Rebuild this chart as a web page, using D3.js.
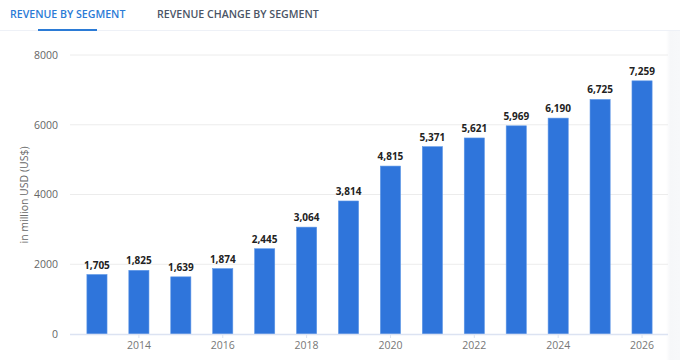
<!DOCTYPE html>
<html><head><meta charset="utf-8">
<script src="https://cdn.jsdelivr.net/npm/d3@7"></script>
<style>body{margin:0;background:#fff;font-family:"Open Sans",sans-serif;}</style>
</head><body>
<svg id="c" width="680" height="360"></svg>
<script>
const years = [2013,2014,2015,2016,2017,2018,2019,2020,2021,2022,2023,2024,2025,2026];
const revenue = [1705,1825,1639,1874,2445,3064,3814,4815,5371,5621,5969,6190,6725,7259];
const yTicks = [0,2000,4000,6000,8000];
const xTickYears = [2014,2016,2018,2020,2022,2024,2026];
const tabs = ["REVENUE BY SEGMENT","REVENUE CHANGE BY SEGMENT"];
const yLabel = "in million USD (US$)";

const svg = d3.select("#c");
// faint right strip
const grad = svg.append("defs").append("linearGradient").attr("id","rs").attr("x1","0").attr("x2","1");
grad.append("stop").attr("offset","0").attr("stop-color","#ffffff");
grad.append("stop").attr("offset","0.3").attr("stop-color","#f6f7f9");
grad.append("stop").attr("offset","1").attr("stop-color","#f7f8fa");
svg.append("rect").attr("x",666).attr("y",31).attr("width",14).attr("height",329).attr("fill","url(#rs)");

// tabs
svg.append("text").attr("x",10).attr("y",18).text(tabs[0])
  .attr("font-size",10.6).attr("font-weight",600).attr("fill","#2b7bd6");
svg.append("text").attr("x",157).attr("y",18).text(tabs[1])
  .attr("font-size",10.6).attr("font-weight",600).attr("fill","#4b5566");
svg.append("rect").attr("x",0).attr("y",30).attr("width",680).attr("height",1).attr("fill","#eef1f7");
svg.append("rect").attr("x",38).attr("y",29).attr("width",59).attr("height",2).attr("fill","#2b7bd6");

const x = d3.scaleBand().domain(years).range([76,663]).paddingInner(0.52).paddingOuter(0.26);
const y = d3.scaleLinear().domain([0,8000]).range([334,55]);

// grid
svg.append("g").selectAll("line").data(yTicks.slice(1)).join("line")
  .attr("x1",70).attr("x2",668).attr("y1",d=>y(d)).attr("y2",d=>y(d))
  .attr("stroke","#ececec").attr("stroke-width",1);

// y axis labels
const yAxis = d3.axisLeft(y).tickValues(yTicks).tickSize(0).tickPadding(12).tickFormat(d3.format("d"));
const ga = svg.append("g").attr("transform","translate(70,0)").call(yAxis);
ga.select(".domain").remove();
ga.selectAll("text").attr("font-size",10.5).attr("fill","#666").attr("font-family","Open Sans");

svg.append("text").attr("transform","translate(28,195) rotate(-90)").attr("text-anchor","middle")
  .attr("font-size",10.5).attr("fill","#666").text(yLabel);

// bars
svg.append("g").selectAll("rect").data(years).join("rect")
  .attr("x",d=>x(d)).attr("width",x.bandwidth())
  .attr("y",(d,i)=>y(revenue[i])).attr("height",(d,i)=>y(0)-y(revenue[i]))
  .attr("fill","#2f75db").attr("stroke","#5b95e6").attr("stroke-width",0.6);

// value labels
svg.append("g").selectAll("text").data(years).join("text")
  .attr("x",d=>x(d)+x.bandwidth()/2).attr("y",(d,i)=>y(revenue[i])-6)
  .attr("text-anchor","middle").attr("font-size",10).attr("font-weight",700).attr("fill","#222")
  .text((d,i)=>d3.format(",")(revenue[i]));

// x axis
const xAxis = d3.axisBottom(x).tickValues(xTickYears).tickSize(4).tickPadding(4);
const gx = svg.append("g").attr("transform","translate(0,334)").call(xAxis);
gx.select(".domain").remove();
gx.selectAll("line").attr("stroke","#dde3f0");
gx.selectAll("text").attr("font-size",10.5).attr("fill","#777").attr("font-family","Open Sans");
svg.append("line").attr("x1",70).attr("x2",668).attr("y1",334.5).attr("y2",334.5).attr("stroke","#dce3f2").attr("stroke-width",1.5);
</script>
</body></html>
